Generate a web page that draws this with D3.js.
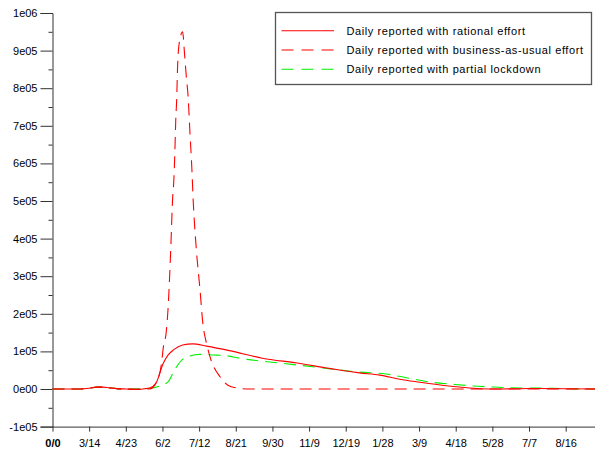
<!DOCTYPE html>
<html><head><meta charset="utf-8">
<script src="https://cdn.jsdelivr.net/npm/d3@7"></script>
<style>
body{margin:0;background:#fff;}
svg{display:block;font-family:"Liberation Sans",Arial,Helvetica,sans-serif;}
</style></head>
<body><svg id="c" width="595" height="455"></svg>
<script>
// x = days since start; tick labels every 40 days
const xTickDays = [0,40,80,120,160,200,240,280,320,360,400,440,480,520,560];
const xTickLabels = ["0/0","3/14","4/23","6/2","7/12","8/21","9/30","11/9","12/19","1/28","3/9","4/18","5/28","7/7","8/16"];
const yTicks = [-1e5,0,1e5,2e5,3e5,4e5,5e5,6e5,7e5,8e5,9e5,1e6];
const yTickLabels = ["-1e05","0e00","1e05","2e05","3e05","4e05","5e05","6e05","7e05","8e05","9e05","1e06"];
const seriesNames = ["Daily reported with rational effort","Daily reported with business-as-usual effort","Daily reported with partial lockdown"];

const rationalDays   = [0,30,40,48,55,62,70,80,95,100,106,113,121,126,132,142,153,168,193,229,267,299,313,335,357,379,401,423,444,466,488,520,560,592];
const rationalValues = [0,0,2000,5000,5000,3000,1000,0,-1000,500,2700,16000,69000,90000,104000,117000,120000,114000,102000,82000,69000,56000,50500,43000,37000,26000,18000,10600,5300,800,0,1200,500,0];

const bauDays   = [0,30,40,48,55,62,70,80,95,100,106,113,119,121,124,126,129,131,132.5,133.5,134.5,135.5,136.5,138,142,144,146,148,150,152,153.5,157,161,164,168,173,183,191,201,215,300,400,500,592];
const bauValues = [0,0,2000,5000,5000,3000,1000,0,-1000,0,0,16000,69000,112000,149000,210000,370000,503000,560000,628000,715000,769000,857000,915000,950000,894000,831000,777000,681000,590000,503000,370000,263000,176000,122000,77000,32000,10600,2700,0,0,0,0,0];

const lockdownDays   = [0,30,40,48,55,62,70,80,95,106,113,126,133,141,150,161,179,191,204,248,292,313,335,364,386,412,437,459,481,510,546,575,592];
const lockdownValues = [0,0,2000,5000,5000,3000,1000,0,500,2000,5000,19000,50000,77000,88000,92000,90000,88000,82000,69000,57000,50500,45000,40000,30000,18600,12500,8000,5300,2700,1900,0,0];

const svg = d3.select("#c");
const x = d3.scaleLinear().domain([0,592]).range([52.5,595]);
const y = d3.scaleLinear().domain([-1e5,1e6]).range([426.6,13]);
const axisColor = "#333";

// Y axis major
const yAxis = d3.axisLeft(y).tickValues(yTicks).tickSize(12).tickPadding(3)
  .tickFormat((d,i)=>yTickLabels[i]);
const gy = svg.append("g").attr("transform","translate(52.5,0)").call(yAxis);
// Y axis minor
const yMinor = d3.range(-0.5e5, 1e6, 1e5);
svg.append("g").attr("transform","translate(52.5,0)")
  .call(d3.axisLeft(y).tickValues(yMinor).tickSize(4).tickFormat(""))
  .select(".domain").remove();

// X axis
const xAxis = d3.axisBottom(x).tickValues(xTickDays).tickSize(5).tickPadding(8)
  .tickFormat((d,i)=>xTickLabels[i]);
const gx = svg.append("g").attr("transform","translate(0,426.6)").call(xAxis);
gx.select(".domain").attr("d","M52.5,0.5H595");

svg.selectAll(".domain").attr("stroke",axisColor);
svg.selectAll(".tick line").attr("stroke",axisColor);
svg.selectAll(".tick text").attr("fill","#000").attr("font-size","11px")
  .attr("font-family","'Liberation Sans',Arial,sans-serif");
gx.selectAll(".tick text").filter((d,i)=>i===0).attr("font-weight","bold");

// Lines
const line = d3.line().x(d=>x(d[0])).y(d=>y(d[1])).curve(d3.curveMonotoneX);
const zip = (a,b)=>a.map((v,i)=>[v,b[i]]);
const series = [
  {days:rationalDays, vals:rationalValues, color:"#ff0000", dash:null},
  {days:bauDays, vals:bauValues, color:"#ff0000", dash:"12,7"},
  {days:lockdownDays, vals:lockdownValues, color:"#00f000", dash:"12,7"}
];
const order = [2,0,1];
order.forEach(k=>{
  const s = series[k];
  svg.append("path").datum(zip(s.days,s.vals)).attr("d",line)
    .attr("fill","none").attr("stroke",s.color).attr("stroke-width",1.1)
    .attr("stroke-dasharray",s.dash);
});

// Legend
const lg = svg.append("g");
lg.append("rect").attr("x",275.5).attr("y",12.5).attr("width",316).attr("height",72)
  .attr("fill","#fff").attr("stroke","#555").attr("stroke-width",1.3);
const rowY = [30.7,50,69.3];
series.forEach((s,i)=>{
  lg.append("line").attr("x1",281.5).attr("x2",334).attr("y1",rowY[i]).attr("y2",rowY[i])
    .attr("stroke",s.color).attr("stroke-width",1.1)
    .attr("stroke-dasharray", s.dash ? "12,8" : null);
  lg.append("text").attr("x",346.5).attr("y",rowY[i]+4).attr("font-size","11px")
    .attr("letter-spacing","0.6px")
    .attr("fill","#000").text(seriesNames[i]);
});
</script></body></html>
